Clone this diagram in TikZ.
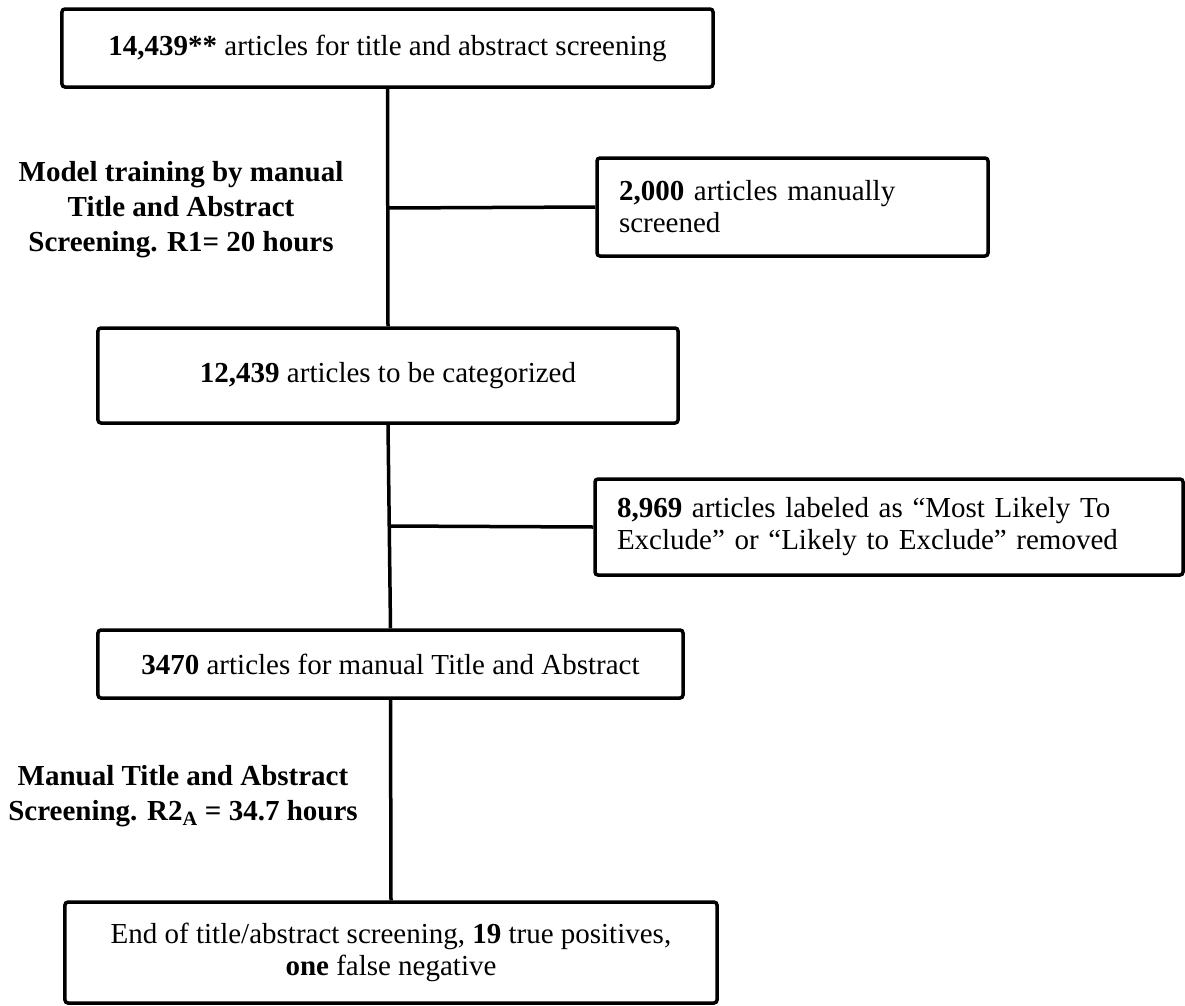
\documentclass[tikz,border=0pt]{standalone}
\usepackage{fontspec}
\setmainfont{Liberation Serif}
\begin{document}
\begin{tikzpicture}[x=1bp,y=-1bp,
  box/.style={draw, line width=3.5bp, rounded corners=3bp, inner sep=0pt, fill=white,
    font=\fontsize{29bp}{32bp}\selectfont},
  lbl/.style={align=center, inner sep=0pt, font=\fontsize{29bp}{35bp}\selectfont\bfseries},
  conn/.style={line width=3.5bp}]
\useasboundingbox (0,0) rectangle (1185,1006);
% boxes
\node[box, minimum width=651bp, minimum height=78bp, align=center] (b1) at (387.5,48)
  {\textbf{14,439**} articles for title and abstract screening};
\node[box, minimum width=391bp, minimum height=98bp, text width=347bp, align=left] (b2) at (792.5,207)
  {\textbf{2,000} articles manually\\screened};
\node[box, minimum width=580bp, minimum height=95bp, align=center] (b3) at (388,375.5)
  {\textbf{12,439} articles to be categorized};
\node[box, minimum width=588bp, minimum height=96bp, text width=544bp, align=left] (b4) at (889,527)
  {\textbf{8,969} articles labeled as “Most Likely To\\Exclude” or “Likely to Exclude” removed};
\node[box, minimum width=585bp, minimum height=68bp, align=center] (b5) at (390.5,664)
  {\textbf{3470} articles for manual Title and Abstract};
\node[box, minimum width=652bp, minimum height=101bp, align=center] (b6) at (391,952.5)
  {End of title/abstract screening, \textbf{19} true positives,\\\textbf{one} false negative};
% labels
\node[lbl] (l1) at (181,210) {Model training by manual\\Title and Abstract\\Screening. R1= 20 hours};
\node[lbl] (l2) at (183,796) {Manual Title and Abstract\\Screening. R2\textsubscript{A} = 34.7 hours};
% connectors
\coordinate (j1) at (388,208);
\coordinate (j2) at (389,526);
\draw[conn] (b1.south) -- (b3.north);
\draw[conn] (j1) -- (b2.west);
\draw[conn] (b3.south) -- (b5.north);
\draw[conn] (j2) -- (b4.west);
\draw[conn] (b5.south) -- (b6.north);
\end{tikzpicture}
\end{document}
